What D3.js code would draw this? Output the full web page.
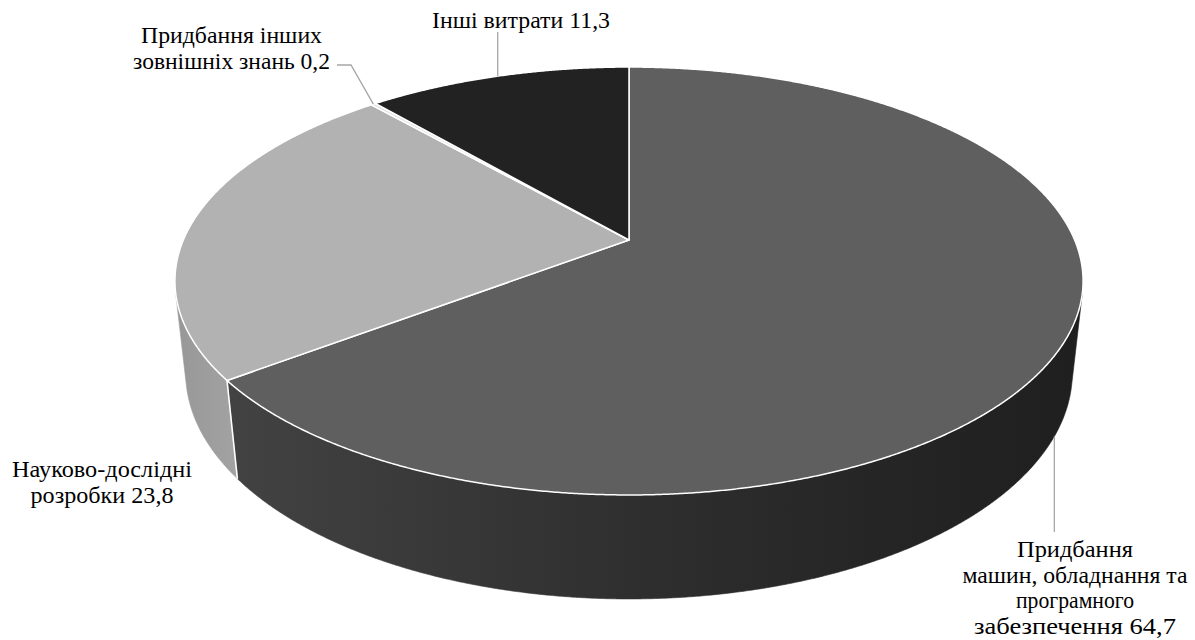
<!DOCTYPE html>
<html>
<head>
<meta charset="utf-8">
<script src="https://cdn.jsdelivr.net/npm/d3@7"></script>
</head>
<body style="margin:0;background:#ffffff">
<svg id="chart" width="1195" height="640" style="display:block"></svg>
<script>
// Structure of innovation expenditure, %
const categories = [
  "Придбання машин, обладнання та програмного забезпечення",
  "Науково-дослідні розробки",
  "Придбання інших зовнішніх знань",
  "Інші витрати"
];
const values = [64.7, 23.8, 0.2, 11.3];
const labelLines = [
  ["Придбання", "машин, обладнання та", "програмного", "забезпечення"],
  ["Науково-дослідні", "розробки"],
  ["Придбання інших", "зовнішніх знань"],
  ["Інші витрати"]
];

// Slice colours: top face, side wall gradient stops
const topColors = ["#5f5f5f", "#b2b2b2", "#e2e2e2", "#222222"];
const wallStops = [
  [[0, "#454545"], [0.25, "#3a3a3a"], [0.5, "#2f2f2f"], [0.75, "#262626"], [1, "#1f1f1f"]],
  [[0, "#979797"], [0.07, "#a3a3a3"], [1, "#a3a3a3"]],
  [[0, "#c8c8c8"], [1, "#c8c8c8"]],
  [[0, "#1a1a1a"], [1, "#1a1a1a"]]
];

const labelFont = "Liberation Serif";
const fmt = v => String(v).replace(".", ",");

// ---- perspective view of a tilted disc (radius 1) ----
const cx = 629, cy = 240;          // projected centre of the top face
const focal = 2062;                 // focal length in px
const camDist = 4.627;              // camera distance in radii
const sinT = 0.4625, cosT = Math.sqrt(1 - sinT * sinT);   // elevation of the view
const thick = 0.234;                // disc thickness in radii

// a: pie angle (0 = far side, clockwise); h: 0 = top face, -thick = bottom face
function project(a, h) {
  const u = Math.sin(a), v = -Math.cos(a);
  const down = sinT * v - cosT * h;
  const dist = camDist - cosT * v - sinT * h;
  return [cx + focal * u / dist, cy + focal * down / dist];
}
function arcPts(a0, a1, h) {
  const n = Math.max(2, Math.ceil(Math.abs(a1 - a0) / (Math.PI / 720)));
  return d3.range(n + 1).map(i => project(a0 + (a1 - a0) * i / n, h));
}

// outer wall faces the camera where cos(a) < -1/(camDist*cosT)
const visLo = Math.acos(-1 / (camDist * cosT));
const visHi = 2 * Math.PI - visLo;

const arcs = d3.pie().sort(null).value(d => d)(values);

const svg = d3.select("#chart");
const defs = svg.append("defs");
wallStops.forEach((stops, i) => {
  const g = defs.append("linearGradient")
    .attr("id", "wall" + i)
    .attr("gradientUnits", "userSpaceOnUse")
    .attr("x1", cx - 454).attr("x2", cx + 454).attr("y1", 0).attr("y2", 0);
  stops.forEach(s => g.append("stop").attr("offset", s[0]).attr("stop-color", s[1]));
});

const line = d3.line();

// side walls
const walls = svg.append("g");
arcs.forEach((d, i) => {
  const a0 = Math.max(d.startAngle, visLo), a1 = Math.min(d.endAngle, visHi);
  if (a1 <= a0) return;
  const pts = arcPts(a0, a1, 0).concat(arcPts(a1, a0, -thick));
  walls.append("path")
    .attr("d", line(pts) + "Z")
    .attr("fill", `url(#wall${i})`)
    .attr("stroke", `url(#wall${i})`)
    .attr("stroke-width", 0.6);
});
// white seams where slices meet on the wall
arcs.forEach(d => {
  const a = d.startAngle;
  if (a > visLo && a < visHi) {
    walls.append("path")
      .attr("d", line([project(a, 0), project(a, -thick)]))
      .attr("stroke", "#ffffff").attr("stroke-width", 1.6).attr("fill", "none");
  }
});

// top faces
const tops = svg.append("g");
arcs.forEach((d, i) => {
  const pts = [[cx, cy]].concat(arcPts(d.startAngle, d.endAngle, 0));
  tops.append("path")
    .attr("d", line(pts) + "Z")
    .attr("fill", topColors[i])
    .attr("stroke", "#ffffff")
    .attr("stroke-width", 1.5)
    .attr("stroke-linejoin", "round");
});

// data labels: centre x, first baseline, line widths, leader route
function mid(d) { return (d.startAngle + d.endAngle) / 2; }
const fontSize = 23, lead = 25.5;
const labelLayout = [
  { x: 1075, y: 557, widths: [116, 225, 118, 202],
    leader: d => { const p = project(mid(d), -thick); return [p, [p[0], 532]]; } },
  { x: 102, y: 477, widths: [180, 143], leader: null },
  { x: 231.5, y: 43, widths: [181, 197],
    leader: d => { const p = project(mid(d), 0); return [p, [351, 65], [337, 65]]; } },
  { x: 521, y: 28, widths: [178],
    leader: d => { const p = project(mid(d), 0); return [p, [p[0], 32]]; } }
];

const leaders = svg.append("g");
const labels = svg.append("g");
arcs.forEach((d, i) => {
  const L = labelLayout[i];
  if (L.leader) {
    leaders.append("path")
      .attr("d", line(L.leader(d)))
      .attr("fill", "none")
      .attr("stroke", "#a6a6a6")
      .attr("stroke-width", 1.3);
  }
  const rows = labelLines[i].slice();
  rows[rows.length - 1] += " " + fmt(values[i]);
  rows.forEach((r, k) => {
    labels.append("text")
      .style("font-family", `"${labelFont}"`)
      .attr("font-size", fontSize)
      .attr("fill", "#000000")
      .attr("text-anchor", "middle")
      .attr("x", L.x)
      .attr("y", L.y + k * lead)
      .attr("textLength", L.widths[k])
      .attr("lengthAdjust", "spacingAndGlyphs")
      .text(r);
  });
});
</script>
</body>
</html>
